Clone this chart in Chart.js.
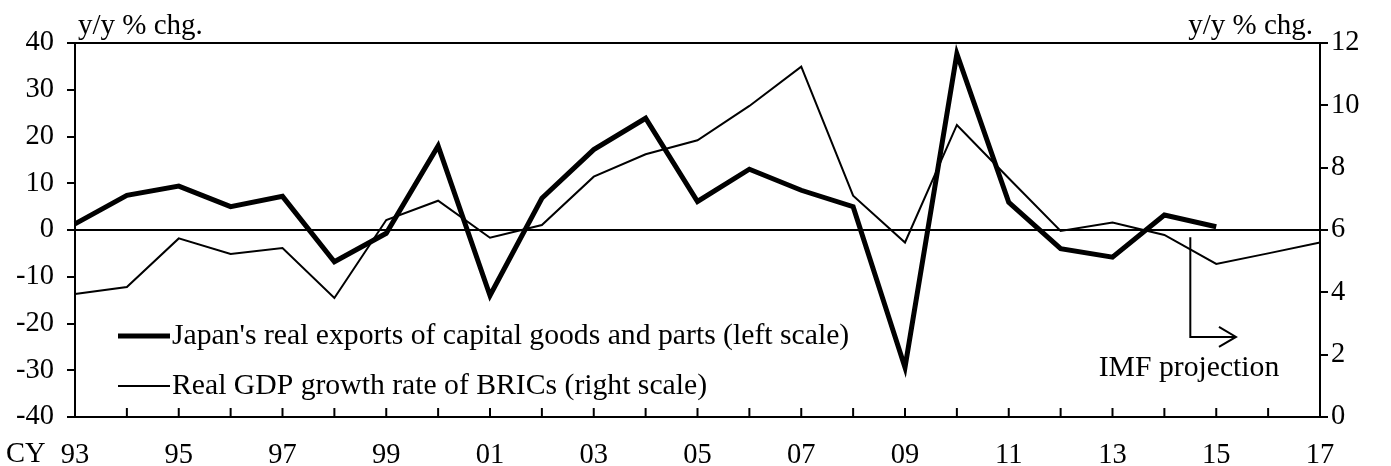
<!DOCTYPE html>
<html>
<head>
<meta charset="utf-8">
<script src="https://cdn.jsdelivr.net/npm/chart.js@4.4.1/dist/chart.umd.min.js"></script>
<style>
  html, body { margin: 0; padding: 0; background: #fff; }
  canvas { display: block; }
</style>
</head>
<body>
<canvas id="c" width="1391" height="466"></canvas>
<script>
// calendar years 1993-2017
var years = ['93','94','95','96','97','98','99','00','01','02','03','04','05','06','07','08','09','10','11','12','13','14','15','16','17'];
// Japan's real exports of capital goods and parts, y/y % chg. (left scale)
var exportsJp = [1.3, 7.4, 9.4, 5.0, 7.2, -6.8, -0.7, 18.0, -14.0, 6.8, 17.2, 23.9, 6.1, 13.0, 8.5, 5.0, -29.4, 37.7, 5.9, -4.0, -5.8, 3.2, 0.7, null, null];
// Real GDP growth rate of BRICs, y/y % chg. (right scale)
var gdpBrics = [3.95, 4.17, 5.73, 5.23, 5.42, 3.82, 6.32, 6.94, 5.75, 6.16, 7.71, 8.43, 8.88, 9.98, 11.24, 7.10, 5.60, 9.37, 7.66, 5.97, 6.24, 5.84, 4.91, 5.25, 5.6];
var leftTicks = [-40, 40, 10];
var rightTicks = [0, 12, 2];

var FONT = '"Liberation Serif", "Times New Roman", serif';

var decorations = {
  id: 'decorations',
  afterDraw: function(chart) {
    var ctx = chart.ctx, a = chart.chartArea;
    var x = chart.scales.x, yl = chart.scales.y, yr = chart.scales.y1;
    ctx.save();
    ctx.strokeStyle = '#000';
    ctx.fillStyle = '#000';
    // top frame
    ctx.lineWidth = 2;
    ctx.beginPath();
    ctx.moveTo(a.left, a.top);
    ctx.lineTo(a.right, a.top);
    ctx.stroke();
    // zero line
    var z = yl.getPixelForValue(0);
    ctx.beginPath();
    ctx.moveTo(a.left, z);
    ctx.lineTo(a.right, z);
    ctx.stroke();
    // inward x ticks
    for (var i = 0; i < years.length; i++) {
      var px = x.getPixelForValue(i);
      ctx.beginPath();
      ctx.moveTo(px, a.bottom);
      ctx.lineTo(px, a.bottom - 9);
      ctx.stroke();
    }
    // axis units
    ctx.font = '29px ' + FONT;
    ctx.textBaseline = 'alphabetic';
    ctx.textAlign = 'left';
    ctx.fillText('y/y % chg.', 78, 34);
    ctx.textAlign = 'right';
    ctx.fillText('y/y % chg.', 1313, 34);
    ctx.font = '28.5px ' + FONT;
    ctx.textAlign = 'left';
    ctx.fillText('CY', 6, 462);

    // legend
    ctx.font = '29.7px ' + FONT;
    ctx.textBaseline = 'middle';
    ctx.lineWidth = 5;
    ctx.beginPath();
    ctx.moveTo(118, 336);
    ctx.lineTo(170, 336);
    ctx.stroke();
    ctx.fillText("Japan's real exports of capital goods and parts (left scale)", 172, 336);
    ctx.lineWidth = 2;
    ctx.beginPath();
    ctx.moveTo(118, 386);
    ctx.lineTo(170, 386);
    ctx.stroke();
    ctx.fillText('Real GDP growth rate of BRICs (right scale)', 172, 386);

    // IMF projection arrow
    var ax = x.getPixelForValue(21.5);
    var ay0 = yr.getPixelForValue(5.77);
    var ay1 = yr.getPixelForValue(2.57);
    var tip = x.getPixelForValue(22.38);
    ctx.lineWidth = 2;
    ctx.beginPath();
    ctx.moveTo(ax, ay0);
    ctx.lineTo(ax, ay1);
    ctx.lineTo(tip, ay1);
    ctx.stroke();
    ctx.beginPath();
    ctx.moveTo(tip - 17, ay1 - 10);
    ctx.lineTo(tip, ay1);
    ctx.lineTo(tip - 17, ay1 + 10);
    ctx.stroke();
    ctx.textAlign = 'center';
    ctx.fillText('IMF projection', 1189, 368);
    ctx.restore();
  }
};

new Chart(document.getElementById('c'), {
  type: 'line',
  data: {
    labels: years,
    datasets: [{
      label: "Japan's real exports of capital goods and parts (left scale)",
      data: exportsJp,
      yAxisID: 'y',
      borderColor: '#000',
      borderWidth: 5,
      borderJoinStyle: 'miter',
      pointRadius: 0,
      tension: 0,
      spanGaps: false
    }, {
      label: 'Real GDP growth rate of BRICs (right scale)',
      data: gdpBrics,
      yAxisID: 'y1',
      borderColor: '#000',
      borderWidth: 2,
      borderJoinStyle: 'miter',
      pointRadius: 0,
      tension: 0
    }]
  },
  options: {
    responsive: false,
    animation: false,
    devicePixelRatio: 1,
    layout: { padding: { top: 43, left: 0, right: 0, bottom: 0 } },
    plugins: { legend: { display: false }, tooltip: { enabled: false } },
    scales: {
      x: {
        offset: false,
        grid: { display: false, drawTicks: false },
        border: { display: true, color: '#000', width: 2 },
        ticks: {
          autoSkip: false, maxRotation: 0, padding: 21,
          color: '#000', font: { family: FONT, size: 28.5 },
          callback: function(v, i) { return i % 2 === 0 ? years[i] : ''; }
        },
        afterFit: function(s) { s.height = 49; s.paddingLeft = 0; s.paddingRight = 0; }
      },
      y: {
        position: 'left',
        min: leftTicks[0], max: leftTicks[1],
        grid: { drawOnChartArea: false, drawTicks: true, tickLength: 8, lineWidth: 2, color: '#000' },
        border: { display: true, color: '#000', width: 2 },
        ticks: { stepSize: leftTicks[2], padding: 13, color: '#000', font: { family: FONT, size: 28.5 } },
        afterFit: function(s) { s.width = 75; s.paddingTop = 0; s.paddingBottom = 0; }
      },
      y1: {
        position: 'right',
        min: rightTicks[0], max: rightTicks[1],
        grid: { drawOnChartArea: false, drawTicks: true, tickLength: 8, lineWidth: 2, color: '#000' },
        border: { display: true, color: '#000', width: 2 },
        ticks: { stepSize: rightTicks[2], padding: 3, color: '#000', font: { family: FONT, size: 28.5 } },
        afterFit: function(s) { s.width = 71; s.paddingTop = 0; s.paddingBottom = 0; }
      }
    }
  },
  plugins: [decorations]
});
</script>
</body>
</html>
